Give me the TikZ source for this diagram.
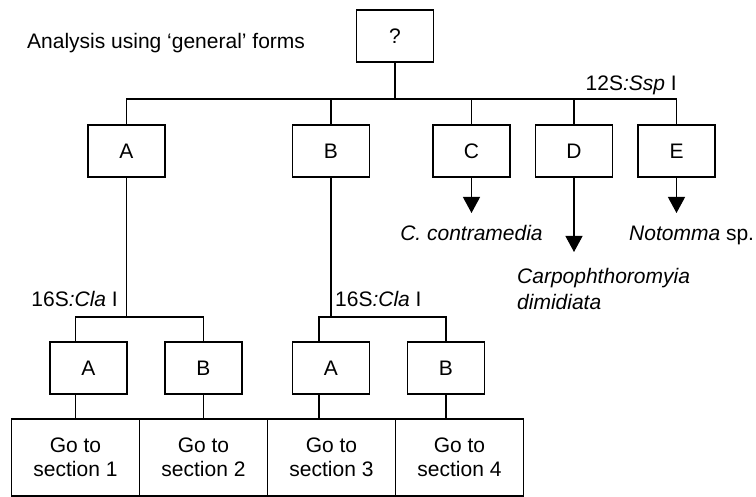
\documentclass[tikz,border=0pt]{standalone}
\usepackage{fontspec}
\setmainfont{Liberation Sans}
\usetikzlibrary{arrows.meta}
\begin{document}
\begin{tikzpicture}[x=1pt,y=-1pt,
  every node/.style={font=\fontsize{21}{26}\selectfont},
  box/.style={draw, line width=1.8pt, inner sep=0pt, minimum width=77pt, minimum height=52pt},
  secbox/.style={draw, line width=1.8pt, inner sep=0pt, minimum width=128pt, minimum height=77pt, align=center},
  conn/.style={line width=1.2pt},
  arr/.style={line width=1.2pt, -{Triangle[width=17pt,length=16pt]}},
  lbl/.style={inner sep=0pt}]
\useasboundingbox[fill=white] (0,0) rectangle (756,497);

% decision boxes
\node[box] (q) at (395,36) {?};
\node[box] (A) at (126.5,151) {A};
\node[box] (B) at (331,151) {B};
\node[box] (C) at (471.5,151) {C};
\node[box] (D) at (574,151) {D};
\node[box] (E) at (676.5,151) {E};
\node[box] (AA) at (88.5,368) {A};
\node[box] (AB) at (203.5,368) {B};
\node[box] (BA) at (331,368) {A};
\node[box] (BB) at (446,368) {B};

% section boxes
\node[secbox] (s1) at (75.5,457.5) {\raisebox{-2pt}{Go to}\\section 1};
\node[secbox] (s2) at (203.5,457.5) {\raisebox{-2pt}{Go to}\\section 2};
\node[secbox] (s3) at (331.5,457.5) {\raisebox{-2pt}{Go to}\\section 3};
\node[secbox] (s4) at (459.5,457.5) {\raisebox{-2pt}{Go to}\\section 4};

% junction points
\coordinate (top) at (395,99);
\coordinate (ja) at (126.5,317);
\coordinate (jb) at (331,317);
\coordinate (xa2) at (319,0);
\coordinate (ct) at (471.5,213);
\coordinate (dt) at (574,252);
\coordinate (et) at (676.5,213);

% first split
\draw[conn] (q.south) -- (top);
\foreach \n in {A,B,C,D,E} \draw[conn] (top) -| (\n.north);

% second split, left
\draw[conn] (A.south) -- (ja);
\draw[conn] (ja) -| (AA.north -| s1.north);
\draw[conn] (ja) -| (AB.north);
\draw[conn] (AA.south -| s1.north) -- (s1.north);
\draw[conn] (AB.south) -- (s2.north);

% second split, right
\draw[conn] (B.south) -- (jb);
\draw[conn] (jb) -| (BA.north -| xa2);
\draw[conn] (jb) -| (BB.north);
\draw[conn] (BA.south -| xa2) -- (s3.north -| xa2);
\draw[conn] (BB.south) -- (BB.south |- s4.north);

% terminal arrows
\draw[arr] (C.south) -- (ct);
\draw[arr] (D.south) -- (dt);
\draw[arr] (E.south) -- (et);

% labels
\node[lbl, anchor=base west] (title) at (27,49) {Analysis using ‘general’ forms};
\node[lbl, anchor=base east] (r12) at (677,91) {12S\textit{:Ssp} I};
\node[lbl, anchor=base east] (ra) at (118,307) {16S\textit{:Cla} I};
\node[lbl, anchor=base west] (rb) at (335,307) {16S\textit{:Cla} I};
\node[lbl, anchor=base] (cc) at (471.5,241) {\textit{C. contramedia}};
\node[lbl, anchor=base west] (no) at (629,241) {\textit{Notomma} sp.};
\node[lbl, anchor=north west, align=left] (cd) at (517,268) {\textit{Carpophthoromyia}\\\textit{dimidiata}};
\end{tikzpicture}
\end{document}
